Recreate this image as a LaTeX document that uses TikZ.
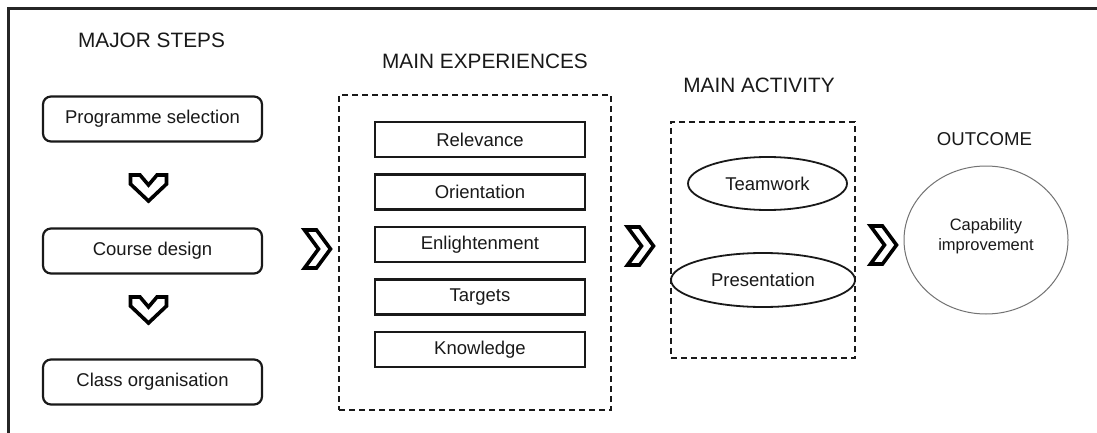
\documentclass[tikz,border=0pt]{standalone}
\usepackage{fontspec}
\setmainfont{Liberation Sans}
\usetikzlibrary{shapes.geometric}
\begin{document}
\begin{tikzpicture}[x=1pt,y=-1pt,
  lbl/.style={font=\fontsize{18.5}{22}\selectfont, text=black!90},
  head/.style={font=\fontsize{20.8}{24}\selectfont, anchor=base, text=black!90},
  stepbox/.style={draw=black!90, line width=2.2pt, rounded corners=8pt, minimum width=219pt, minimum height=45pt, lbl},
  expbox/.style={draw=black!90, line width=2.6pt, minimum width=210pt, minimum height=35pt, lbl},
  groupbox/.style={draw=black!90, line width=1.9pt, dash pattern=on 6pt off 4pt},
  actell/.style={draw=black!90, ellipse, line width=1.8pt, inner sep=0pt, lbl},
  chev/.style={draw=black, line width=3.6pt, line join=miter, fill=white},
  rchev/.pic={\draw[chev] (-12.5,-19) -- (-0.5,-19) -- (13.5,0) -- (-0.5,19) -- (-12.5,19) -- (1.5,0) -- cycle;},
  dchev/.pic={\draw[chev] (-18,-13) -- (-8.5,-13) -- (0,-3) -- (8.5,-13) -- (18,-13) -- (18,-4) -- (0,13) -- (-18,-4) -- cycle;}
]
\useasboundingbox (0,0) rectangle (1097,433);
\fill[white] (0,0) rectangle (1097,433);
\draw[line width=2.2pt, black!85] (1097,8.5) -- (8.5,8.5) -- (8.5,433);

% Major steps
\node[head] (hsteps) at (151.5,48) {MAJOR STEPS};
\node[stepbox] (prog) at (152.5,119) {Programme selection};
\node[stepbox] (course) at (152.5,251) {Course design};
\node[stepbox] (class) at (152.5,382) {Class organisation};
\pic at (148.5,188) {dchev};
\pic at (148.5,310) {dchev};

% Main experiences
\node[head] (hexp) at (485,69) {MAIN EXPERIENCES};
\node[groupbox, minimum width=272pt, minimum height=315pt] (expgroup) at (475,252.5) {};
\node[expbox] (rel) at (480,139.5) {Relevance};
\node[expbox] (ori) at (480,192) {Orientation};
\node[expbox] (enl) at (480,244.5) {Enlightenment};
\node[expbox] (tar) at (480,297) {Targets};
\node[expbox] (kno) at (480,349.5) {Knowledge};
\pic at (317,249) {rchev};

% Main activity
\node[head] (hact) at (759,93) {MAIN ACTIVITY};
\node[groupbox, minimum width=184pt, minimum height=236pt] (actgroup) at (763,240) {};
\node[actell, minimum width=159pt, minimum height=53pt] (team) at (767.5,183.5) {Teamwork};
\node[actell, minimum width=184pt, minimum height=54pt] (pres) at (763,280) {Presentation};
\pic at (640,246) {rchev};

% Outcome
\node[font=\fontsize{18.6}{22}\selectfont, anchor=base, text=black!90] (hout) at (984.5,146) {OUTCOME};
\node[draw=black!55, ellipse, line width=1pt, minimum width=164pt, minimum height=148pt] (cap) at (986,240) {};
\node[font=\fontsize{16.5}{20}\selectfont, align=center, text=black!90] (captext) at (986,236) {Capability\\improvement};
\pic at (883,245) {rchev};
\end{tikzpicture}
\end{document}
